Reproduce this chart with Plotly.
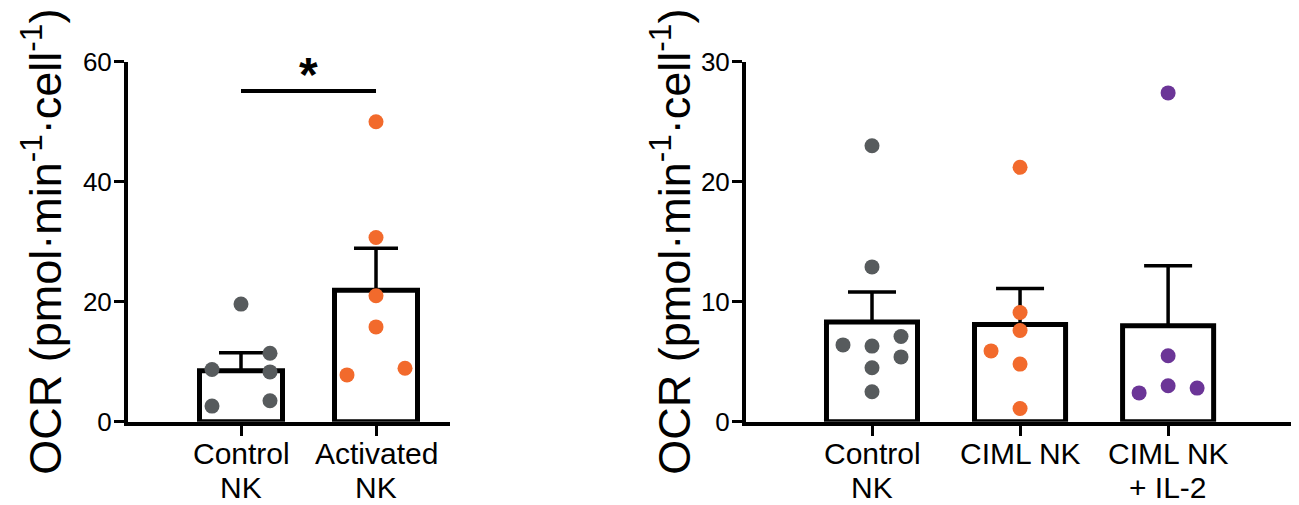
import plotly.graph_objects as go

# ---- data -------------------------------------------------------------
left_categories = [["Control", "NK"], ["Activated", "NK"]]
left_ctrl = [19.6, 11.4, 8.7, 8.3, 3.5, 2.6]
left_act = [50.0, 30.7, 21.0, 15.8, 8.9, 7.8]
left_means = [8.5, 21.9]
left_sem = [3.0, 7.0]

right_categories = [["Control", "NK"], ["CIML NK"], ["CIML NK", "+ IL-2"]]
right_ctrl = [23.0, 12.9, 7.1, 6.4, 6.3, 5.4, 4.5, 2.5]
right_ciml = [21.2, 9.1, 7.6, 5.9, 4.8, 1.1]
right_il2 = [27.4, 5.5, 3.0, 2.8, 2.4]
right_means = [8.3, 8.1, 8.0]
right_sem = [2.5, 3.0, 5.0]

left_ticks = [0, 20, 40, 60]
right_ticks = [0, 10, 20, 30]

# ---- layout helpers ---------------------------------------------------
W, H = 1299, 505
GREY, ORANGE, PURPLE = "#575b5d", "#f26a2c", "#6b3597"
FONT = "Arial, Liberation Sans, sans-serif"

# swarm slots (-1 left, 0 centre, +1 right) for each dot column
left_slots = [[0, 1, -1, 1, 1, -1], [0, 0, 0, 0, 1, -1]]
right_slots = [[0, 0, 1, -1, 0, 1, 0, 0], [0, 0, 0, -1, 0, 0], [0, 0, 0, 1, -1]]
SWARM_PX = 29

# plot boxes in pixels (x0, x1, ytop, ybottom)
LBOX = (128, 450, 61.7, 421.7)
RBOX = (746, 1291, 61.7, 421.7)
LXR = [-0.837, 1.548]
RXR = [-0.851, 2.83]
BAR_W = 0.615
LABEL_LINES_PX = (453, 487)   # vertical centres of the category label lines


def dom_x(b):
    return [b[0] / W, b[1] / W]


def dom_y(b):
    return [1 - b[3] / H, 1 - b[2] / H]


def swarm_x(idx, slots, box, xr):
    per_unit = (box[1] - box[0]) / (xr[1] - xr[0])
    return [idx + s * SWARM_PX / per_unit for s in slots]


fig = go.Figure()

# bars with one-sided SEM
for xa, ya, means, sem, n, cap in [
    ("x", "y", left_means, left_sem, 2, 22),
    ("x2", "y2", right_means, right_sem, 3, 24),
]:
    fig.add_trace(go.Bar(
        x=list(range(n)), y=means, width=BAR_W, xaxis=xa, yaxis=ya,
        marker=dict(color="white", line=dict(color="black", width=5)),
        error_y=dict(type="data", array=sem, arrayminus=[0] * n, symmetric=False,
                     color="black", thickness=3.5, width=cap),
        showlegend=False, hoverinfo="skip",
    ))

# individual donors
groups = [
    ("x", "y", 0, left_ctrl, left_slots[0], GREY, LBOX, LXR),
    ("x", "y", 1, left_act, left_slots[1], ORANGE, LBOX, LXR),
    ("x2", "y2", 0, right_ctrl, right_slots[0], GREY, RBOX, RXR),
    ("x2", "y2", 1, right_ciml, right_slots[1], ORANGE, RBOX, RXR),
    ("x2", "y2", 2, right_il2, right_slots[2], PURPLE, RBOX, RXR),
]
for xa, ya, idx, vals, slots, col, box, xr in groups:
    fig.add_trace(go.Scatter(
        x=swarm_x(idx, slots, box, xr), y=vals, mode="markers",
        xaxis=xa, yaxis=ya, cliponaxis=False,
        marker=dict(color=col, size=15, line=dict(width=0)),
        showlegend=False, hoverinfo="skip",
    ))

# significance bracket
fig.add_shape(type="line", xref="x", yref="y", x0=0, x1=1, y0=55.1, y1=55.1,
              line=dict(color="black", width=4))
fig.add_annotation(xref="x", yref="y", x=0.5, y=57.8, text="<b>*</b>",
                   showarrow=False, yanchor="middle",
                   font=dict(family=FONT, size=48, color="black"))

# category labels, one annotation per text line for tight line spacing
for xa, cats in (("x", left_categories), ("x2", right_categories)):
    for i, lines in enumerate(cats):
        for line, ypx in zip(lines, LABEL_LINES_PX):
            fig.add_annotation(xref=xa, yref="paper", x=i, y=1 - ypx / H,
                               text=line, showarrow=False,
                               xanchor="center", yanchor="middle",
                               font=dict(family=FONT, size=30, color="black"))

axis_common = dict(showgrid=False, zeroline=False, showline=True, linecolor="black",
                   linewidth=4, ticks="outside", ticklen=10, tickwidth=3,
                   tickcolor="black", automargin=False)

title_text = "OCR (pmol·min<sup>-1</sup>·cell<sup>-1</sup>)"
for xc in (42, 671):
    fig.add_annotation(xref="paper", yref="paper", x=xc / W, y=1 - 241.7 / H,
                       text=title_text, textangle=-90, showarrow=False,
                       xanchor="center", yanchor="middle",
                       font=dict(family=FONT, size=45, color="black"))

fig.update_layout(
    width=W, height=H,
    margin=dict(l=0, r=0, t=0, b=0, pad=0, autoexpand=False),
    paper_bgcolor="white", plot_bgcolor="white",
    font=dict(family=FONT, color="black"),
    xaxis=dict(domain=dom_x(LBOX), range=LXR, tickvals=[0, 1],
               showticklabels=False, **axis_common),
    yaxis=dict(domain=dom_y(LBOX), range=[0, 60], tickvals=left_ticks,
               tickfont=dict(size=26), anchor="x", ticklabelstandoff=-3,
               **axis_common),
    xaxis2=dict(domain=dom_x(RBOX), range=RXR, tickvals=[0, 1, 2],
                showticklabels=False, anchor="y2", **axis_common),
    yaxis2=dict(domain=dom_y(RBOX), range=[0, 30], tickvals=right_ticks,
                tickfont=dict(size=26), anchor="x2", ticklabelstandoff=-3,
                **axis_common),
)

fig.write_html("out.html")
